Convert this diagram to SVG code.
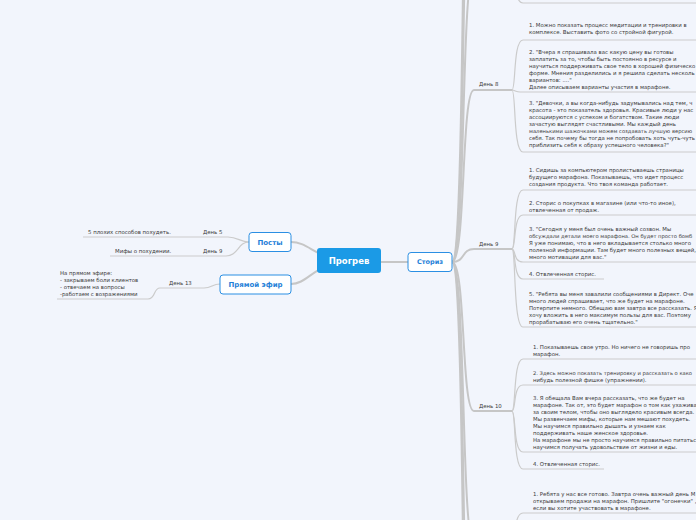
<svg xmlns="http://www.w3.org/2000/svg" width="696" height="520" viewBox="0 0 696 520">
<style>
.bg{fill:#f2f5fc}
.c1{fill:none;stroke:#c6c6c6;stroke-width:2}
.c2{fill:none;stroke:#cbcbcb;stroke-width:1.2}
.t{font-family:"DejaVu Sans",Verdana,sans-serif;font-size:5.4px;fill:#3a3a3a}
.n{font-size:5.2px}
.node{fill:#fff;stroke:#2b8fe3;stroke-width:1}
.nt{font-family:"DejaVu Sans",Verdana,sans-serif;font-weight:bold;fill:#1f7fd8;text-anchor:middle}
</style>
<rect class="bg" x="0" y="0" width="696" height="520"/>
<g id="connectors">
  <path class="c1" d="M291,242 C305,242 312,252 330,258"/>
  <path class="c1" d="M291,284 C305,284 312,270 330,265"/>
  <path class="c1" d="M381,262 L408,262"/>
  <path class="c2" d="M249,242 C240,242 238,237 228,237 L83,237"/>
  <path class="c2" d="M249,242 C238,242 238,256 226,256 L110,256"/>
  <path class="c2" d="M220,284 C212,284 212,288 204,288 L160,288 C153,288 156,299 148,299 L57,299"/>
  <path class="c1" d="M452,262 C467,262 461,-400 474,-400"/>
  <path class="c1" d="M452,262 C467,262 461,-220 474,-220"/>
  <path class="c1" d="M452,262 C466,262 461,-30 474,-30"/>
  <path class="c1" d="M452,262 C466,262 461,90 474,90 L512,90"/>
  <path class="c1" d="M452,262 C466,262 461,249 474,249 L512,249"/>
  <path class="c1" d="M452,262 C466,262 461,411 474,411 L512,411"/>
  <path class="c1" d="M452,262 C466,262 461,545 474,545"/>
  <path class="c1" d="M452,262 C467,262 461,740 474,740"/>
  <path class="c1" d="M452,262 C467,262 461,930 474,930"/>
  <path class="c2" d="M512,-30 C516,-30 513,3 523,3 L696,3"/>
  <path class="c2" d="M512,90 C516,90 513,40 523,40 L696,40"/>
  <path class="c2" d="M512,90 C516,90 513,92 523,92 L696,92"/>
  <path class="c2" d="M512,90 C516,90 513,152 523,152 L696,152"/>
  <path class="c2" d="M512,249 C516,249 513,190 523,190 L696,190"/>
  <path class="c2" d="M512,249 C516,249 513,215 523,215 L696,215"/>
  <path class="c2" d="M512,249 C516,249 513,262 523,262 L696,262"/>
  <path class="c2" d="M512,249 C516,249 513,279 523,279 L604,279"/>
  <path class="c2" d="M512,249 C516,249 513,327 523,327 L696,327"/>
  <path class="c2" d="M512,411 C516,411 513,359 523,359 L696,359"/>
  <path class="c2" d="M512,411 C516,411 513,385 523,385 L696,385"/>
  <path class="c2" d="M512,411 C516,411 513,452 523,452 L696,452"/>
  <path class="c2" d="M512,411 C516,411 513,469 523,469 L604,469"/>
  <path class="c2" d="M512,545 C516,545 513,513 523,513 L696,513"/>
</g>
<g id="progrev">
  <rect x="317" y="248" width="64" height="25" rx="3" fill="#1b9ae6"/>
  <text x="349" y="264" font-family="DejaVu Sans,Verdana,sans-serif" font-weight="bold" font-size="8.5" fill="#fff" text-anchor="middle">Прогрев</text>
</g>
<g id="storiz">
  <rect class="node" x="408" y="252.5" width="44" height="19" rx="3"/>
  <text class="nt" x="430" y="264.3" font-size="6.5">Сториз</text>
</g>
<g id="posty">
  <rect class="node" x="249" y="232.5" width="42" height="19" rx="3"/>
  <text class="nt" x="270" y="244.5" font-size="7">Посты</text>
</g>
<g id="pryamoy-efir">
  <rect class="node" x="220" y="275" width="71" height="19" rx="3"/>
  <text class="nt" x="255.5" y="287" font-size="7">Прямой эфир</text>
</g>
<g id="posty-day5">
  <text class="t" x="203" y="234">День 5</text>
  <text class="t" x="88" y="234">5 плохих способов похудеть.</text>
</g>
<g id="posty-day9">
  <text class="t" x="203" y="253">День 9</text>
  <text class="t" x="115" y="253">Мифы о похудении.</text>
</g>
<g id="efir-day13">
  <text class="t" x="169" y="285">День 13</text>
  <text class="t" x="60" y="275">На прямом эфире:</text>
  <text class="t" x="60" y="282">- закрываем боли клиентов</text>
  <text class="t" x="60" y="289">- отвечаем на вопросы</text>
  <text class="t" x="60" y="296">-работаем с возражениями</text>
</g>
<g id="day8">
  <text class="t" x="479" y="86">День 8</text>
</g>
<g id="day8-items">
  <text class="t" x="529" y="27">1. Можно показать процесс медитации и тренировки в</text>
  <text class="t" x="529" y="34">комплексе. Выставить фото со стройной фигурой.</text>
  <text class="t" x="529" y="54">2. "Вчера я спрашивала вас какую цену вы готовы</text>
  <text class="t" x="529" y="61">заплатить за то, чтобы быть постоянно в ресурсе и</text>
  <text class="t" x="529" y="68">научиться поддерживать свое тело в хорошей физическо</text>
  <text class="t" x="529" y="75">форме. Мнения разделились и я решила сделать несколь</text>
  <text class="t" x="529" y="82">вариантов: ...."</text>
  <text class="t" x="529" y="89">Далее описываем варианты участия в марафоне.</text>
  <text class="t" x="529" y="105">3. "Девочки, а вы когда-нибудь задумывались над тем, ч</text>
  <text class="t" x="529" y="112">красота - это показатель здоровья. Красивые люди у нас</text>
  <text class="t" x="529" y="119">ассоциируются с успехом и богатством. Такие люди</text>
  <text class="t" x="529" y="126">зачастую выглядят счастливыми. Мы каждый день</text>
  <text class="t n" x="529" y="133">маленькими шажочками можем создавать лучшую версию</text>
  <text class="t" x="529" y="140">себя. Так почему бы тогда не попробовать хоть чуть-чуть</text>
  <text class="t" x="529" y="147">приблизить себя к образу успешного человека?"</text>
</g>
<g id="day9">
  <text class="t" x="479" y="246">День 9</text>
</g>
<g id="day9-items">
  <text class="t" x="529" y="172">1. Сидишь за компьютером пролистываешь страницы</text>
  <text class="t" x="529" y="179">будущего марафона. Показываешь, что идет процесс</text>
  <text class="t" x="529" y="186">создания продукта. Что твоя команда работает.</text>
  <text class="t" x="529" y="205">2. Сторис о покупках в магазине (или что-то иное),</text>
  <text class="t" x="529" y="212">отвлеченная от продаж.</text>
  <text class="t" x="529" y="231">3. "Сегодня у меня был очень важный созвон. Мы</text>
  <text class="t n" x="529" y="238">обсуждали детали моего марафона. Он будет просто бомб</text>
  <text class="t" x="529" y="245">Я уже понимаю, что в него вкладывается столько много</text>
  <text class="t" x="529" y="252">полезной информации. Там будет много полезных вещей,</text>
  <text class="t" x="529" y="259">много мотивации для вас."</text>
  <text class="t" x="529" y="276">4. Отвлеченная сторис.</text>
  <text class="t" x="529" y="296">5. "Ребята вы меня завалили сообщениями в Директ. Оче</text>
  <text class="t" x="529" y="303">много людей спрашивает, что же будет на марафоне.</text>
  <text class="t" x="529" y="310">Потерпите немного. Обещаю вам завтра все рассказать. Я</text>
  <text class="t" x="529" y="317">хочу вложить в него максимум пользы для вас. Поэтому</text>
  <text class="t" x="529" y="324">прорабатываю его очень тщательно."</text>
</g>
<g id="day10">
  <text class="t" x="479" y="408">День 10</text>
</g>
<g id="day10-items">
  <text class="t" x="533" y="349">1. Показываешь свое утро. Но ничего не говоришь про</text>
  <text class="t" x="533" y="356">марафон.</text>
  <text class="t n" x="533" y="375">2. Здесь можно показать тренировку и рассказать о како</text>
  <text class="t" x="533" y="382">нибудь полезной фишке (упражнении).</text>
  <text class="t" x="533" y="400">3. Я обещала Вам вчера рассказать, что же будет на</text>
  <text class="t" x="533" y="407">марафоне. Так от, это будет марафон о том как ухажива</text>
  <text class="t" x="533" y="414">за своим телом, чтобы оно выглядело красивым всегда.</text>
  <text class="t" x="533" y="421">Мы развенчаем мифы, которые нам мешают похудеть.</text>
  <text class="t" x="533" y="428">Мы научимся правильно дышать и узнаем как</text>
  <text class="t" x="533" y="435">поддерживать наше женское здоровье.</text>
  <text class="t" x="533" y="442">На марафоне мы не просто научимся правильно питатьс</text>
  <text class="t" x="533" y="449">научимся получать удовольствие от жизни и еды.</text>
  <text class="t" x="533" y="466">4. Отвлеченная сторис.</text>
</g>
<g id="day11-items">
  <text class="t" x="533" y="496">1. Ребята у нас все готово. Завтра очень важный день М</text>
  <text class="t" x="533" y="503">открываем продажи на марафон. Пришлите "огонечки" ,</text>
  <text class="t" x="533" y="510">если вы хотите участвовать в марафоне.</text>
</g>
</svg>
